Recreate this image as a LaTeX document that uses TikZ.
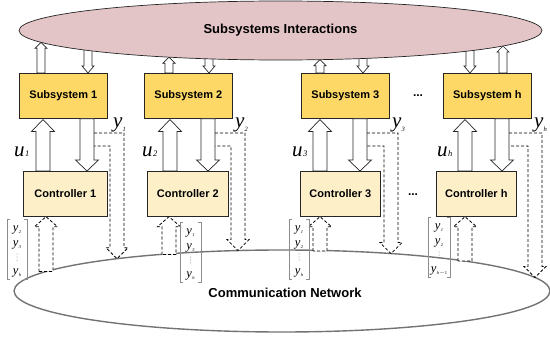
\documentclass[tikz,border=0pt]{standalone}
\usepackage{fontspec}
\setmainfont{Liberation Sans}
\newfontfamily\tnr{Liberation Serif}
\usetikzlibrary{calc,shapes.geometric}
\definecolor{subyel}{HTML}{FDD866}
\definecolor{ctrlyel}{HTML}{FDF0C9}
\definecolor{pinkell}{HTML}{E4C5C7}
\tikzset{
 subbox/.style={draw=black!85, line width=0.7pt, fill=subyel, minimum width=88pt, minimum height=45pt, inner sep=0pt, anchor=north west, font=\bfseries\fontsize{11}{12}\selectfont},
 ctrlbox/.style={draw=black!85, line width=0.7pt, fill=ctrlyel, minimum width=82pt, minimum height=45pt, inner sep=0pt, anchor=north west, font=\bfseries\fontsize{11}{12}\selectfont},
 hollow/.style={draw=black!85, line width=0.7pt, fill=white},
 dashedarr/.style={draw=black, line width=0.8pt, dash pattern=on 3pt off 2pt, fill=white},
 dashedline/.style={draw=black, line width=0.8pt, dash pattern=on 3pt off 2pt},
 bigsym/.style={font=\tnr\itshape\fontsize{21}{21}\selectfont, inner sep=0pt, anchor=base west},
 vecitem/.style={font=\tnr\itshape\fontsize{12.5}{12}\selectfont, inner sep=0pt},
 bracket/.style={draw=black!45, line width=0.6pt},
 dotsnode/.style={font=\bfseries\fontsize{12}{12}\selectfont, inner sep=0pt},
}
\newcommand\vsub[1]{\raisebox{-0.35ex}{\fontsize{6.5}{6.5}\selectfont #1}}
\newcommand\usub[1]{\kern0.5pt\raisebox{0ex}{\fontsize{8.5}{8.5}\selectfont #1}}
\newcommand\isub[1]{\kern0.3pt\raisebox{-0.3ex}{\fontsize{4.5}{4.5}\selectfont #1}}
% vertical block arrow: style, start, end(tip), half shaft, half head, head length
\newcommand\varrow[6]{\path[#1] let \p1=#2, \p2=#3, \n1={ifthenelse(\y2>\y1,1,-1)} in
  ({\x1-#4},\y1) -- ({\x1-#4},{\y2-(\n1)*#6}) -- ({\x1-#5},{\y2-(\n1)*#6}) -- (\x2,\y2)
  -- ({\x1+#5},{\y2-(\n1)*#6}) -- ({\x1+#4},{\y2-(\n1)*#6}) -- ({\x1+#4},\y1) -- cycle;}
% L-shaped dashed arrow: xa, x inner, x outer, x centre, half head, head base y, tip y
\newcommand\larrow[7]{\path[dashedline] (#1,133) -- (#3,133) -- (#3,#6) -- ({#4+#5},#6)
  -- (#4,#7) -- ({#4-#5},#6) -- (#2,#6) -- (#2,146) -- (#1,146);}
% vector: xl, xr, ytop, ybot, item1, item2, item3, name
\newcommand\vecbr[8]{%
  \path[bracket] ({#1+3},#3) -- (#1,#3) -- (#1,#4) -- ({#1+3},#4);
  \path[bracket] ({#2-3},#3) -- (#2,#3) -- (#2,#4) -- ({#2-3},#4);
  \node[vecitem] (#8a) at ({(#1+#2)/2},{#3+11}) {#5};
  \node[vecitem] (#8b) at ({(#1+#2)/2},{#3+26}) {#6};
  \foreach \dd in {35,38,41} {\fill[black!55] ({(#1+#2)/2},{#3+\dd}) circle (0.5);}
  \node[vecitem] (#8c) at ({(#1+#2)/2},{#3+54}) {#7};}
\begin{document}
\begin{tikzpicture}[x=1pt,y=-1pt]
\useasboundingbox (0,0) rectangle (550,337);

% bottom ellipse
\node[ellipse, draw=black!55, line width=1.4pt, minimum width=536pt, minimum height=82pt, inner sep=0pt] (net) at (282,291) {};
\node[inner sep=0pt, font=\bfseries\fontsize{13}{14}\selectfont] (netlbl) at (285,293) {Communication Network};

% subsystem boxes
\node[subbox] (S1) at (19,73) {Subsystem 1};
\node[subbox] (S2) at (144,73) {Subsystem 2};
\node[subbox] (S3) at (301,73) {Subsystem 3};
\node[subbox] (Sh) at (443,73) {Subsystem h};

% controller boxes
\node[ctrlbox, minimum width=84pt] (C1) at (23,171) {Controller 1};
\node[ctrlbox, minimum width=81pt] (C2) at (147,171) {Controller 2};
\node[ctrlbox, minimum width=80pt] (C3) at (300,171) {Controller 3};
\node[ctrlbox, minimum width=80pt] (Ch) at (436,171) {Controller h};

\node[dotsnode] (d1) at (418,96) {...};
\node[dotsnode] (d2) at (413,195) {...};

% top small arrows (drawn before the ellipse)
\varrow{hollow}{(41,0 |- S1.north)}{(41,42.3)}{4pt}{6pt}{6pt}
\varrow{hollow}{(88,40)}{(88,0 |- S1.north)}{4pt}{6pt}{7pt}
\varrow{hollow}{(169,0 |- S2.north)}{(169,57.2)}{4pt}{6pt}{6pt}
\varrow{hollow}{(209,50)}{(209,0 |- S2.north)}{4pt}{6pt}{7pt}
\varrow{hollow}{(320,0 |- S3.north)}{(320,59.7)}{4pt}{6pt}{6pt}
\varrow{hollow}{(363,50)}{(363,0 |- S3.north)}{4pt}{6pt}{7pt}
\varrow{hollow}{(470,40)}{(470,0 |- Sh.north)}{4pt}{6pt}{7pt}
\varrow{hollow}{(503,0 |- Sh.north)}{(503,46)}{4pt}{6pt}{6pt}

% top ellipse
\node[ellipse, draw=black!85, line width=0.7pt, fill=pinkell, minimum width=523pt, minimum height=59pt, inner sep=0pt,
      font=\bfseries\fontsize{13}{14}\selectfont] (SI) at (280.5,30.5) {Subsystems Interactions};

% u arrows (controller -> subsystem)
\varrow{hollow}{(43,0 |- C1.north)}{(43,119.5)}{7pt}{11.5pt}{12pt}
\varrow{hollow}{(170,0 |- C2.north)}{(170,119.5)}{7pt}{11.5pt}{12pt}
\varrow{hollow}{(320,0 |- C3.north)}{(320,119.5)}{7pt}{11.5pt}{12pt}
\varrow{hollow}{(465,0 |- Ch.north)}{(465,119.5)}{7pt}{11.5pt}{12pt}

% y arrows (subsystem -> controller)
\varrow{hollow}{(87,0 |- S1.south)}{(87,0 |- C1.north)}{7pt}{11.5pt}{11pt}
\varrow{hollow}{(208,0 |- S2.south)}{(208,0 |- C2.north)}{7pt}{11.5pt}{11pt}
\varrow{hollow}{(360,0 |- S3.south)}{(360,0 |- C3.north)}{7pt}{11.5pt}{11pt}
\varrow{hollow}{(502,0 |- Sh.south)}{(502,0 |- Ch.north)}{7pt}{11.5pt}{11pt}

% dashed outputs to the network
\larrow{94}{110}{124}{117}{11}{247.7}{258.7}
\larrow{215}{231}{245}{238}{11}{239.6}{250.6}
\larrow{367}{384}{398}{391}{11}{242.6}{253.6}
\larrow{509}{528}{542}{535}{11}{266.5}{277.5}

% dashed inputs from the network
\varrow{dashedarr}{(46,271.5)}{(46,0 |- C1.south)}{7pt}{11.5pt}{10pt}
\varrow{dashedarr}{(169,254.5)}{(169,0 |- C2.south)}{7pt}{11.5pt}{10pt}
\varrow{dashedarr}{(320,251)}{(320,0 |- C3.south)}{7pt}{11.5pt}{10pt}
\varrow{dashedarr}{(465,261)}{(465,0 |- Ch.south)}{7pt}{11.5pt}{10pt}

% vectors
\vecbr{7}{27}{219}{279}{y\isub{2}}{y\isub{3}}{y\isub{h}}{v1}
\vecbr{180}{201}{222}{282}{y\isub{1}}{y\isub{3}}{y\isub{h}}{v2}
\vecbr{289}{309}{219}{279}{y\isub{1}}{y\isub{2}}{y\isub{h}}{v3}
\vecbr{428}{450}{217}{277}{y\isub{1}}{y\isub{2}}{y\isub{h\kern0.3pt\upshape$-$1}}{vh}

% labels u and y
\node[bigsym] (u1) at (14,157) {u\usub{1}};
\node[bigsym] (u2) at (142,157) {u\usub{2}};
\node[bigsym] (u3) at (292,157) {u\usub{3}};
\node[bigsym] (uh) at (437,157) {u\usub{h}};
\node[bigsym] (y1) at (113,128) {y\vsub{1}};
\node[bigsym] (y2) at (235,128) {y\vsub{2}};
\node[bigsym] (y3) at (392,128) {y\vsub{3}};
\node[bigsym] (yh) at (534,128) {y\vsub{h}};
\end{tikzpicture}
\end{document}
